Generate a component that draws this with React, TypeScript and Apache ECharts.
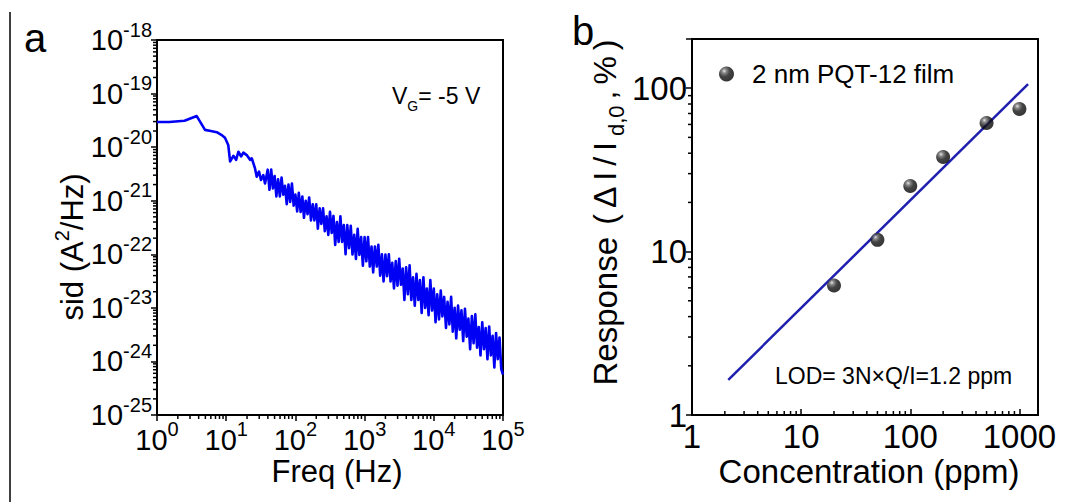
import React, { useEffect, useRef } from 'react';
import * as echarts from 'echarts';

const FONT = "'Liberation Sans', Arial, Helvetica, sans-serif";

// Panel a: current noise spectrum, sid in A^2/Hz
const sidFreq = [
  1, 1.5, 2.5, 3.75, 4.94, 6.0, 7.3, 8.5, 9.6, 10.7, 11.4, 12.7, 13.9, 15.0, 16.4, 17.7, 19.8, 22.1, 23.4, 26.1, 27.6, 29.8, 31.8, 34.4, 36.4,
  39.8, 42.2, 44.7, 47.3, 50.1, 53.1, 56.2, 59.6, 63.1, 66.8, 70.8, 75.0, 79.4, 84.1, 89.1, 94.4,
  100, 106, 112, 119, 126, 133, 141, 150, 158, 168, 178, 188, 200, 211, 224, 237, 251, 266, 282, 299,
  316, 335, 355, 376, 398, 422, 447, 473, 501, 531, 562, 596, 631, 668, 708, 750, 794, 841, 891, 944,
  1000, 1060, 1120, 1190, 1260, 1330, 1410, 1500, 1580, 1680, 1780, 1880, 2000, 2110, 2240, 2370, 2510, 2660, 2820, 2990,
  3160, 3350, 3550, 3760, 3980, 4220, 4470, 4730, 5010, 5310, 5620, 5960, 6310, 6680, 7080, 7500, 7940, 8410, 8910, 9440,
  10000, 10600, 11200, 11900, 12600, 13300, 14100, 15000, 15800, 16800, 17800, 18800, 20000, 21100, 22400, 23700, 25100, 26600, 28200, 29900,
  31600, 33500, 35500, 37600, 39800, 42200, 44700, 47300, 50100, 53100, 56200, 59600, 63100, 66800, 70800, 75000, 79400, 84100, 89100, 94400,
  100000,
];
const sidValue = [
  2.95e-20, 2.95e-20, 3.1e-20, 3.8e-20, 2.1e-20, 2.0e-20, 1.9e-20, 1.7e-20, 1.5e-20, 1.1e-20, 5.4e-21, 6.9e-21, 5.8e-21, 8.2e-21, 6.7e-21, 7.9e-21, 7.1e-21, 5.8e-21, 6.2e-21, 4.0e-21, 2.8e-21, 3.5e-21, 2.45e-21, 3.0e-21, 2.1e-21,
  3.8e-21, 1.6e-21, 3.8e-21, 1.7e-21, 2.9e-21, 1.2e-21, 2.5e-21, 1.2e-21, 2.7e-21, 1.3e-21, 1.9e-21, 8.6e-22, 2.0e-21, 9.5e-22, 2.1e-21, 8.1e-22,
  1.3e-21, 6.3e-22, 1.4e-21, 6.2e-22, 1.2e-21, 4.8e-22, 1.0e-21, 5.6e-22, 1.15e-21, 4.3e-22, 8.6e-22, 4.3e-22, 8.6e-22, 3.0e-22, 7.2e-22, 3.7e-22, 7.2e-22, 2.7e-22, 5.1e-22, 2.3e-22,
  6.2e-22, 2.5e-22, 5.2e-22, 1.5e-22, 4.0e-22, 1.7e-22, 5.1e-22, 1.7e-22, 3.5e-22, 1.0e-22, 3.5e-22, 1.3e-22, 3.4e-22, 9.9e-23, 2.3e-22, 8.2e-23, 3.0e-22, 9.7e-23, 2.1e-22, 6.1e-23,
  2.1e-22, 7.4e-23, 2.1e-22, 5.9e-23, 1.4e-22, 4.6e-23, 1.4e-22, 5.9e-23, 1.5e-22, 4.0e-23, 1.0e-22, 3.1e-23, 9.9e-23, 3.9e-23, 1.0e-22, 3.1e-23, 6.9e-23, 2.3e-23, 7.5e-23, 2.6e-23,
  8.2e-23, 2.7e-23, 5.4e-23, 1.4e-23, 5.7e-23, 1.8e-23, 6.2e-23, 1.4e-23, 3.7e-23, 1.1e-23, 4.3e-23, 1.4e-23, 3.3e-23, 8.0e-24, 3.7e-23, 1.0e-23, 2.3e-23, 7.3e-24, 3.3e-23, 8.9e-24,
  2.3e-23, 5.4e-24, 1.8e-23, 6.1e-24, 2.1e-23, 6.9e-24, 1.6e-23, 4.2e-24, 1.3e-23, 4.9e-24, 1.6e-23, 3.6e-24, 1.0e-23, 2.7e-24, 1.1e-23, 3.9e-24, 9.0e-24, 2.4e-24, 9.6e-24, 2.9e-24,
  6.3e-24, 1.7e-24, 7.0e-24, 2.2e-24, 7.6e-24, 1.8e-24, 4.4e-24, 1.3e-24, 5.4e-24, 1.7e-24, 4.2e-24, 1.1e-24, 4.5e-24, 1.3e-24, 3.0e-24, 7.7e-25, 3.4e-24, 1.1e-24, 2.8e-24, 7.2e-25,
  5.7e-25,
];
// ECharts rounds very small log-axis values to 0, so sid is plotted in units of 1e-25 A^2/Hz
const SID_UNIT_EXP = -25;
const sidAxisMin = 1e-25;
const sidAxisMax = 1e-18;

// Panel b: response vs concentration
const concentration = [20, 50, 100, 200, 500, 1000];
const response = [6.2, 11.8, 25.2, 37.9, 61.2, 74.6];
const fitConcentration = [2.15, 1200];
const fitResponse = [1.64, 106];

const zip = (a: number[], b: number[]) => a.slice(0, Math.min(a.length, b.length)).map((v, i) => [v, b[i]]);
const toUnit = (v: number) => v * Math.pow(10, -SID_UNIT_EXP);

const minorValues = (fromExp: number, toExp: number, limit: number) => {
  const out: number[] = [];
  for (let e = fromExp; e <= toExp; e++) {
    for (let m = 2; m <= 9; m++) {
      const v = m * Math.pow(10, e);
      if (v < limit * 0.999) out.push(v);
    }
  }
  return out;
};

const expLabel = (offset: number) => (v: number) => {
  const e = Math.log10(v);
  const r = Math.round(e);
  if (Math.abs(e - r) > 1e-6) return '';
  return `{b|10}{s|${r + offset}}`;
};
const plainLabel = (v: number) => {
  const e = Math.log10(v);
  const r = Math.round(e);
  if (Math.abs(e - r) > 1e-6) return '';
  return String(Math.round(Math.pow(10, r)));
};
const expRichY = {
  b: { fontSize: 29, fontFamily: FONT, color: '#000', verticalAlign: 'top', padding: [6, 0, 6, 0] },
  s: { fontSize: 20, fontFamily: FONT, color: '#000', verticalAlign: 'top' },
};
const expRichX = {
  b: { fontSize: 29, fontFamily: FONT, color: '#000', verticalAlign: 'top', padding: [6, 0, 0, 0] },
  s: { fontSize: 20, fontFamily: FONT, color: '#000', verticalAlign: 'top' },
};

const tickSeries = (axisIndex: number, data: number[][], dx: number, dy: number) => ({
  type: 'custom',
  xAxisIndex: axisIndex,
  yAxisIndex: axisIndex,
  data,
  clip: false,
  silent: true,
  z: 5,
  renderItem: (_params: any, api: any) => {
    const p = api.coord([api.value(0), api.value(1)]);
    return {
      type: 'line',
      shape: { x1: p[0], y1: p[1], x2: p[0] + dx, y2: p[1] + dy },
      style: { stroke: '#000', lineWidth: 1.5 },
    };
  },
});

const baseAxis = {
  splitLine: { show: false },
  axisLine: { show: true, lineStyle: { color: '#000', width: 2 } },
};

export default function App() {
  const ref = useRef<HTMLDivElement>(null);
  useEffect(() => {
    document.body.style.margin = '0';
    const chart = echarts.init(ref.current!, null, { renderer: 'svg' });
    const sphere = new echarts.graphic.RadialGradient(0.35, 0.3, 0.75, [
      { offset: 0, color: '#e0e0e0' },
      { offset: 0.2, color: '#6a6a6a' },
      { offset: 0.5, color: '#151515' },
      { offset: 1, color: '#000' },
    ]);
    const yMinA = toUnit(sidAxisMin);
    const yMaxA = toUnit(sidAxisMax);
    const pt = (style: any) => ({ fontFamily: FONT, fill: '#000', ...style });
    const option: any = {
      animation: false,
      backgroundColor: '#fff',
      textStyle: { fontFamily: FONT },
      grid: [
        { left: 157, top: 40, width: 346, height: 375, show: true, borderColor: '#000', borderWidth: 2, backgroundColor: 'transparent' },
        { left: 692, top: 39, width: 346, height: 376, show: true, borderColor: '#000', borderWidth: 2, backgroundColor: 'transparent' },
      ],
      legend: {
        data: ['2 nm PQT-12 film'],
        left: 719,
        top: 61,
        padding: 0,
        icon: 'circle',
        itemWidth: 15,
        itemHeight: 15,
        selectedMode: false,
        textStyle: { fontSize: 26, fontFamily: FONT, color: '#000', padding: [0, 0, 0, 13] },
      },
      xAxis: [
        {
          ...baseAxis,
          gridIndex: 0,
          type: 'log',
          logBase: 10,
          min: 1,
          max: 1e5,
          splitNumber: 5,
          axisTick: { show: true, inside: false, length: 6, lineStyle: { color: '#000', width: 1.5 } },
          axisLabel: { formatter: expLabel(0), margin: 4, rich: expRichX },
        },
        {
          ...baseAxis,
          gridIndex: 1,
          type: 'log',
          logBase: 10,
          min: 1,
          max: 1480,
          splitNumber: 3,
          axisTick: { show: true, inside: true, length: 6, lineStyle: { color: '#000', width: 1.5 } },
          axisLabel: { formatter: plainLabel, margin: 5, fontSize: 33, fontFamily: FONT, color: '#000' },
        },
      ],
      yAxis: [
        {
          ...baseAxis,
          gridIndex: 0,
          type: 'log',
          logBase: 10,
          min: yMinA,
          max: yMaxA,
          splitNumber: 7,
          axisTick: { show: true, inside: false, length: 6, lineStyle: { color: '#000', width: 1.5 } },
          axisLabel: { formatter: expLabel(SID_UNIT_EXP), margin: 5, rich: expRichY },
        },
        {
          ...baseAxis,
          gridIndex: 1,
          type: 'log',
          logBase: 10,
          min: 1,
          max: 200,
          splitNumber: 3,
          axisTick: { show: true, inside: false, length: 6, lineStyle: { color: '#000', width: 1.5 } },
          axisLabel: { formatter: plainLabel, margin: 5, fontSize: 33, fontFamily: FONT, color: '#000' },
        },
      ],
      series: [
        {
          name: 'sid',
          type: 'line',
          xAxisIndex: 0,
          yAxisIndex: 0,
          data: zip(sidFreq, sidValue.map(toUnit)),
          showSymbol: false,
          lineStyle: { color: '#0000f5', width: 2.6, join: 'round' },
          z: 3,
        },
        {
          name: '2 nm PQT-12 film',
          type: 'scatter',
          xAxisIndex: 1,
          yAxisIndex: 1,
          data: zip(concentration, response),
          symbol: 'circle',
          symbolSize: 14,
          itemStyle: { color: sphere },
          z: 4,
        },
        {
          name: 'fit',
          type: 'line',
          xAxisIndex: 1,
          yAxisIndex: 1,
          data: zip(fitConcentration, fitResponse),
          showSymbol: false,
          lineStyle: { color: '#1f1fb0', width: 2.5 },
          z: 3,
        },
        tickSeries(0, minorValues(0, 6, yMaxA).map((v) => [1, v]), -4, 0),
        tickSeries(0, minorValues(0, 4, 1e5).map((v) => [v, yMinA]), 0, 4),
        tickSeries(1, minorValues(0, 2, 200).map((v) => [1, v]), -4, 0),
        tickSeries(1, minorValues(0, 3, 1480).map((v) => [v, 1]), 0, -4),
      ],
      graphic: [
        { type: 'line', shape: { x1: 10, y1: 12, x2: 10, y2: 502 }, style: { stroke: '#000', lineWidth: 1.5 } },
        { type: 'text', x: 35, y: 38, style: pt({ text: 'a', fontSize: 40, align: 'center', verticalAlign: 'middle' }) },
        { type: 'text', x: 583, y: 31, style: pt({ text: 'b', fontSize: 40, align: 'center', verticalAlign: 'middle' }) },
        {
          type: 'text', x: 392, y: 84.5,
          style: pt({
            text: '{v|V}{g|G}{v|= -5 V}', align: 'left', verticalAlign: 'top',
            rich: {
              v: pt({ fontSize: 23, verticalAlign: 'top' }),
              g: pt({ fontSize: 14, verticalAlign: 'top', padding: [14.5, 0, 0, 0] }),
            },
          }),
        },
        {
          type: 'text', x: 775, y: 376,
          style: pt({ text: 'LOD= 3N×Q/I=1.2 ppm', fontSize: 23, align: 'left', verticalAlign: 'middle' }),
        },
        {
          type: 'text', x: 337, y: 471,
          style: pt({ text: 'Freq (Hz)', fontSize: 31, align: 'center', verticalAlign: 'middle' }),
        },
        {
          type: 'text', x: 869, y: 471,
          style: pt({ text: 'Concentration (ppm)', fontSize: 33, align: 'center', verticalAlign: 'middle' }),
        },
        {
          type: 'text', x: 70, y: 247, rotation: Math.PI / 2,
          style: pt({
            text: '{t|sid (A}{s|2}{t|/Hz)}', align: 'center', verticalAlign: 'middle',
            rich: {
              t: pt({ fontSize: 31, verticalAlign: 'top', padding: [5, 0, 0, 0] }),
              s: pt({ fontSize: 20, verticalAlign: 'top' }),
            },
          }),
        },
        {
          type: 'text', x: 608, y: 211, rotation: Math.PI / 2,
          style: pt({
            text: '{t|Response }{p|(}{p|Δ}{p|I}{p|/}{p|I}{d|d,0}{p|,}{p|%}{p|)}', align: 'center', verticalAlign: 'middle',
            rich: {
              t: pt({ fontSize: 33, verticalAlign: 'top' }),
              p: pt({ fontSize: 32, verticalAlign: 'top', padding: [0, 3, 0, 3] }),
              d: pt({ fontSize: 22, verticalAlign: 'top', padding: [16, 3, 0, 3] }),
            },
          }),
        },
      ],
    };
    chart.setOption(option);
    return () => chart.dispose();
  }, []);
  return <div ref={ref} style={{ width: 1083, height: 502 }} />;
}
